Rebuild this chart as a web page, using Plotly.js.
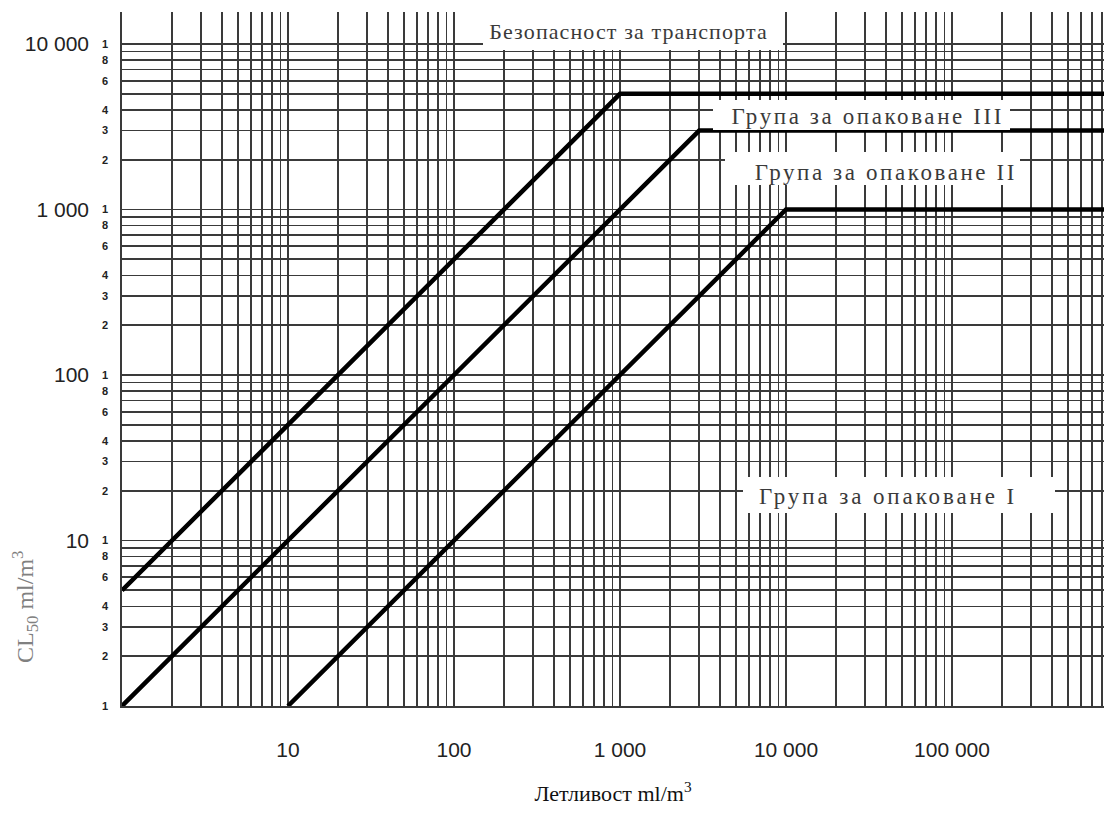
<!DOCTYPE html>
<html><head><meta charset="utf-8">
<script src="https://cdn.plot.ly/plotly-3.0.1.min.js"></script>
<style>html,body{margin:0;padding:0;background:#fff}</style>
</head><body><div id="chart" style="width:1104px;height:818px"></div>
<script>
// ---- data ----
const transportX = [1, 1000, 1000000];
const transportY = [5, 5000, 5000];
const pg3X = [1, 3000, 1000000];
const pg3Y = [1, 3000, 3000];
const pg12X = [10, 10000, 1000000];
const pg12Y = [1, 1000, 1000];
const zoneLabels = ['Безопасност за транспорта', 'Група за опаковане III', 'Група за опаковане II', 'Група за опаковане I'];
const xDecadeLabels = ['10', '100', '1 000', '10 000', '100 000'];
const yDecadeValues = [10, 100, 1000, 10000];
const yDecadeLabels = ['10', '100', '1 000', '10 000'];
const yDigitLabels = ['1', '2', '3', '4', '', '6', '', '8', ''];
const xTitle = 'Летливост ml/m<sup>3</sup>';
const yTitle = 'CL<sub>50</sub> ml/m<sup>3</sup>';

// ---- grid (1..9 per decade) ----
const xGrid = [], xGridText = [];
for (let k = 0; k <= 5; k++) for (let d = 1; d <= 9; d++) {
  xGrid.push(d * Math.pow(10, k));
  xGridText.push(d === 1 && k >= 1 ? xDecadeLabels[k - 1] : '');
}
const yGrid = [], yGridText = [];
for (let k = 0; k <= 4; k++) for (let d = 1; d <= 9; d++) {
  yGrid.push(d * Math.pow(10, k));
  yGridText.push(yDigitLabels[d - 1]);
}

const sans = 'Liberation Sans, Arial, sans-serif';
const serif = 'Liberation Serif, Times New Roman, serif';
const L = 122, R = 1104, T = 12, B = 706;
const px = v => (v - L) / (R - L);
const py = v => (B - v) / (B - T);

const lineStyle = {color: '#000', width: 4.5};
const traces = [
  {x: transportX, y: transportY, mode: 'lines', line: lineStyle, hoverinfo: 'skip', showlegend: false},
  {x: pg3X, y: pg3Y, mode: 'lines', line: lineStyle, hoverinfo: 'skip', showlegend: false},
  {x: pg12X, y: pg12Y, mode: 'lines', line: lineStyle, hoverinfo: 'skip', showlegend: false},
  {x: [1], y: [1], yaxis: 'y2', mode: 'markers', marker: {opacity: 0}, hoverinfo: 'skip', showlegend: false}
];

// white label boxes [left, right, top, bottom] in pixels
const boxes = [
  [483, 783, 12, 50],
  [713, 1010, 100, 130],
  [725, 1020, 152, 185],
  [743, 1055, 477, 513]
];
const textPos = [[628, 31], [867, 117], [886, 172], [888, 497]];
const textSize = [22, 23, 23, 23];
const textSpacing = [1.1, 2.6, 2.6, 2.9];

const annotations = boxes.map(b => ({
  text: '\u00a0', xref: 'paper', yref: 'paper',
  x: px((b[0] + b[1]) / 2), y: py((b[2] + b[3]) / 2),
  xanchor: 'center', yanchor: 'middle', showarrow: false,
  width: b[1] - b[0], height: b[3] - b[2], bgcolor: '#fff', borderpad: 0, borderwidth: 0,
  font: {size: 4}
}));
zoneLabels.forEach((t, i) => annotations.push({
  text: t, xref: 'paper', yref: 'paper', x: px(textPos[i][0]), y: py(textPos[i][1]),
  xanchor: 'center', yanchor: 'middle', showarrow: false,
  font: {family: serif, size: textSize[i], color: '#3a3a3a'}
}));
annotations.push({
  text: yTitle, xref: 'paper', yref: 'paper', x: px(25), y: py(607),
  xanchor: 'center', yanchor: 'middle', showarrow: false, textangle: -90,
  font: {family: serif, size: 24, color: '#808080'}
});

const layout = {
  width: 1104, height: 818,
  margin: {l: L, r: 0, t: T, b: 818 - B},
  paper_bgcolor: '#fff', plot_bgcolor: '#fff',
  xaxis: {
    type: 'log', range: [0, (R - L) / 166], tickmode: 'array', tickvals: xGrid, ticktext: xGridText,
    showgrid: true, gridcolor: '#3a3a3a', gridwidth: 1.7, ticks: '', ticklabelstandoff: 24,
    showline: true, linecolor: '#3a3a3a', linewidth: 1.7, zeroline: false,
    tickfont: {family: sans, size: 21, color: '#222'},
    title: {text: xTitle, font: {family: serif, size: 22, color: '#111'}, standoff: 26}
  },
  yaxis: {
    type: 'log', range: [0, (B - T) / 165.5], tickmode: 'array', tickvals: yGrid, ticktext: yGridText,
    showgrid: true, gridcolor: '#3a3a3a', gridwidth: 1.7, ticks: '', ticklabelstandoff: 10,
    showline: true, linecolor: '#3a3a3a', linewidth: 1.7, zeroline: false,
    tickfont: {family: sans, size: 11, color: '#222', weight: 'bold'}
  },
  yaxis2: {
    type: 'log', overlaying: 'y', side: 'left', range: [0, (B - T) / 165.5],
    tickmode: 'array', tickvals: yDecadeValues, ticktext: yDecadeLabels,
    showgrid: false, zeroline: false, showline: false, ticks: '', ticklabelstandoff: 32,
    tickfont: {family: sans, size: 21, color: '#222'}
  },
  annotations: annotations
};

Plotly.newPlot('chart', traces, layout, {staticPlot: true, displayModeBar: false}).then(gd => {
  const texts = gd.querySelectorAll('.annotation-text');
  zoneLabels.forEach((label, i) => {
    texts.forEach(el => {
      if (el.textContent === label) el.style.letterSpacing = textSpacing[i] + 'px';
    });
  });
});
</script>
</body></html>
